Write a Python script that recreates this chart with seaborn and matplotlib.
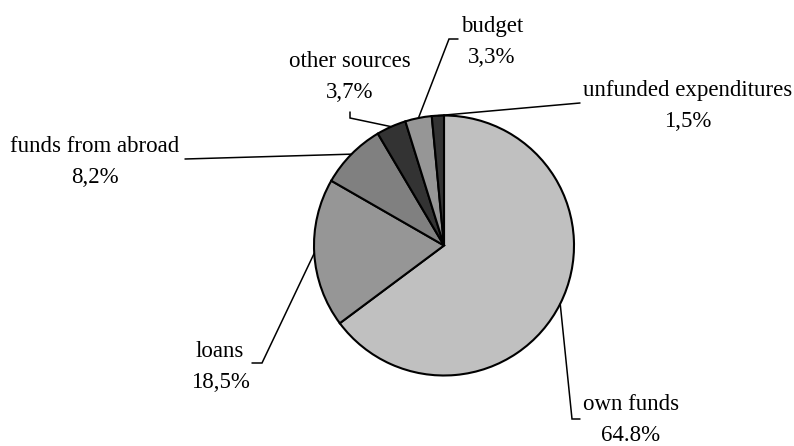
import matplotlib
matplotlib.use("Agg")
import matplotlib.pyplot as plt
import seaborn as sns
import numpy as np

# Funding structure
categories = ["own funds", "loans", "funds from abroad", "other sources",
              "budget", "unfunded expenditures"]
shares = [64.8, 18.5, 8.2, 3.7, 3.3, 1.5]
value_labels = ["64.8%", "18,5%", "8,2%", "3,7%", "3,3%", "1,5%"]

sns.set_style("white")
plt.rcParams["font.family"] = ["Liberation Serif", "DejaVu Serif"]

W, H = 794, 446
fig = plt.figure(figsize=(W / 100, H / 100), dpi=100)
ax = fig.add_axes([0, 0, 1, 1])

colors = ["#c0c0c0", "#969696", "#808080", "#333333", "#969696", "#333333"]
center = (444, H - 245.5)
radius = 130

wedges, _ = ax.pie(shares, colors=colors, startangle=90, counterclock=False,
                   center=center, radius=radius, frame=True,
                   wedgeprops=dict(edgecolor="black", linewidth=1.5))
ax.set_xlim(0, W)
ax.set_ylim(0, H)
ax.set_aspect("equal")
ax.axis("off")

# label block centres and leader elbows (pixel layout, y measured from top)
label_pos = [(631, 420), (220, 367), (95, 162), (350, 77), (492, 42), (688, 106)]
leader_via = [[(572, 419), (580, 419)],
              [(262, 363), (252, 363)],
              [(185, 159)],
              [(350, 118), (350, 112)],
              [(449, 39), (458, 39)],
              [(580, 103)]]

for w, name, lab, pos, via in zip(wedges, categories, value_labels,
                                  label_pos, leader_via):
    mid = np.deg2rad((w.theta1 + w.theta2) / 2)
    sx = center[0] + radius * np.cos(mid)
    sy = center[1] + radius * np.sin(mid)
    xs = [sx] + [p[0] for p in via]
    ys = [sy] + [H - p[1] for p in via]
    ax.plot(xs, ys, color="black", lw=1.1, solid_joinstyle="miter", zorder=1)
    ax.text(pos[0], H - pos[1], f"{name}\n{lab}", ha="center", va="center",
            multialignment="center", fontsize=16.5, linespacing=1.65,
            color="black")

fig.savefig("out.png", dpi=100)
